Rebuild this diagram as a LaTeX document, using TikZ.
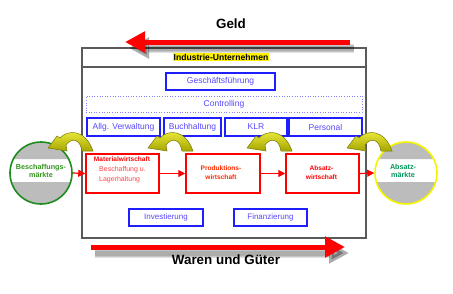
\documentclass[tikz,border=0pt]{standalone}
\usepackage{fontspec}
\setmainfont{Liberation Sans}
\usetikzlibrary{arrows.meta}
\definecolor{bbox}{RGB}{30,30,255}
\definecolor{btxt}{RGB}{85,70,255}
\definecolor{rbox}{RGB}{255,0,0}
\definecolor{rlite}{RGB}{255,70,70}
\definecolor{rorng}{RGB}{255,40,0}
\definecolor{framec}{RGB}{90,90,90}
\definecolor{cgrey}{RGB}{188,188,188}
\definecolor{gcirc}{RGB}{30,140,30}
\definecolor{ycirc}{RGB}{245,245,0}
\definecolor{gtxt}{RGB}{50,150,30}
\definecolor{ttxt}{RGB}{0,150,90}
\definecolor{ylo}{RGB}{245,245,70}
\definecolor{ydk}{RGB}{165,165,0}
\definecolor{yline}{RGB}{120,120,0}
\begin{document}
\begin{tikzpicture}[x=1pt,y=-1pt,
  bluebox/.style={draw=bbox, line width=1.2pt, text=btxt, font=\fontsize{8.5}{10}\selectfont, inner sep=0pt, minimum height=18pt},
  redbox/.style={draw=rbox, line width=1.5pt, minimum width=73pt, minimum height=39pt, inner sep=0pt},
  redtitle/.style={text=rbox, font=\bfseries\fontsize{6.6}{9}\selectfont, inner sep=0pt, align=center},
  redsub/.style={text=rlite, font=\fontsize{7}{9}\selectfont, inner sep=0pt, anchor=west},
  mktcirc/.style={circle, minimum size=62pt, inner sep=0pt, line width=1.6pt},
  mkttext/.style={font=\bfseries\fontsize{7.2}{8}\selectfont, inner sep=0pt, align=center},
  flow/.style={draw=rbox, line width=1.2pt, -{Triangle[length=7pt,width=7pt]}},
  bigarrow/.style={draw=rbox, line width=5pt, -{Triangle[length=20pt,width=20pt]}},
  bigshadow/.style={draw=black, opacity=0.12, -{Triangle[length=20pt,width=20pt]}},
  bigtext/.style={font=\bfseries\fontsize{13.4}{15}\selectfont, inner sep=0pt},
  curvarr/.pic={\path[draw=yline, line width=0.5pt, top color=ylo, bottom color=ydk]
     (1,17) -- (10,5) -- (13,7) .. controls (20,-1) and (38,-3) .. (46,20) -- (35,20)
     .. controls (33,8) and (25,6) .. (19,14) -- (20,20) -- cycle;}
]
\useasboundingbox (0,0) rectangle (453,293);
% frame
\draw[framec, line width=1.1pt] (82,48) rectangle (366,238);
\draw[framec, line width=1.1pt] (82,67) -- (366,67);
\node[fill=yellow, inner sep=0.4pt, font=\bfseries\fontsize{8.6}{10}\selectfont] (indus) at (221,57) {Industrie-Unternehmen};
% blue boxes
\node[bluebox, line width=1.8pt, minimum width=109pt, minimum height=17pt] (gf) at (220.5,81.5) {Geschäftsführung};
\node[bluebox, draw=bbox!55, line width=0.6pt, dotted, minimum width=276pt, minimum height=16pt] (ctrl) at (224,104) {Controlling};
\node[bluebox, minimum width=73pt] (allg) at (123.5,127) {Allg. Verwaltung};
\node[bluebox, minimum width=57pt] (buch) at (192.5,127) {Buchhaltung};
\node[bluebox, minimum width=62pt] (klr) at (256,127) {KLR};
\node[bluebox, minimum width=73pt] (pers) at (325.5,127) {Personal};
\node[bluebox, minimum width=74pt, minimum height=17pt, font=\fontsize{8}{10}\selectfont] (inv) at (166,217.5) {Investierung};
\node[bluebox, minimum width=73pt, minimum height=17pt, font=\fontsize{8}{10}\selectfont] (fin) at (270.5,217.5) {Finanzierung};
% red boxes
\node[redbox] (mat) at (122.5,173.5) {};
\node[redbox, minimum width=74pt] (prod) at (223,173.5) {};
\node[redbox] (abs) at (322.5,173.5) {};
\node[redtitle] (matt) at (122,159) {Materialwirtschaft};
\node[redsub] (mats1) at (99,170) {Beschaffung u.};
\node[redsub] (mats2) at (99,179.5) {Lagerhaltung};
\node[redtitle, text=rorng] (prodt) at (221,172.5) {Produktions-\\wirtschaft};
\node[redtitle] (abst) at (321.5,172.5) {Absatz-\\wirtschaft};
% circles: white disc, grey caps top and bottom
\foreach \cx in {41,406}{
  \fill[white] (\cx,173) circle (31);
  % top cap (visually above the band, y from 142 to 159)
  \fill[cgrey] (\cx-27.66,159) arc[start angle=206.85, end angle=333.15, radius=31] -- cycle;
  % bottom cap (y from 182 to 204)
  \fill[cgrey] (\cx+29.66,182) arc[start angle=16.88, end angle=163.12, radius=31] -- cycle;
}
\node[mktcirc, draw=gcirc] (lc) at (41,173) {};
\node[mktcirc, draw=ycirc] (rc) at (406,173) {};
\node[mkttext, text=gtxt] (lct) at (41,170.5) {Beschaffungs-\\märkte};
\node[mkttext, text=ttxt] (rct) at (403,170.5) {Absatz-\\märkte};
% flow arrows
\draw[flow] (lc.east) -- (mat.west);
\draw[flow] (mat.east) -- (prod.west);
\draw[flow] (prod.east) -- (abs.west);
\draw[flow] (abs.east) -- (rc.west);
% curved money arrows
\pic at (47,131) {curvarr};
\pic at (147,131) {curvarr};
\pic at (246,131) {curvarr};
\pic at (346,131) {curvarr};
% big arrows
\coordinate (g1) at (350,42);
\coordinate (g2) at (125,42);
\coordinate (w1) at (91,247);
\coordinate (w2) at (345,247);
\foreach \lw in {9,7,5}{
  \draw[bigshadow, line width=\lw pt] ([shift={(4,6)}]g1) -- ([shift={(4,6)}]g2);
  \draw[bigshadow, line width=\lw pt] ([shift={(4,6)}]w1) -- ([shift={(4,6)}]w2);
}
\draw[bigarrow] (g1) -- (g2);
\draw[bigarrow] (w1) -- (w2);
\node[bigtext] (geld) at (231,24) {Geld};
\node[bigtext] (waren) at (226,260) {Waren und Güter};
\end{tikzpicture}
\end{document}
